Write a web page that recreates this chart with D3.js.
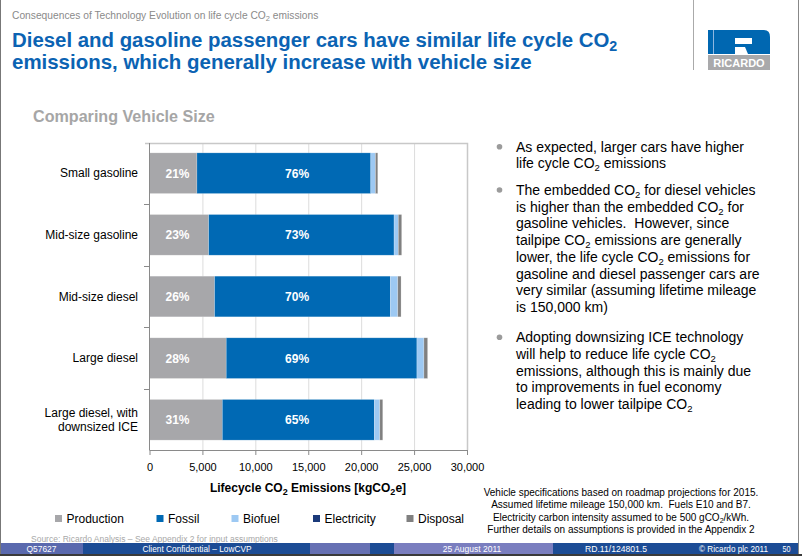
<!DOCTYPE html>
<html><head><meta charset="utf-8">
<script src="https://cdn.jsdelivr.net/npm/d3@7"></script>
<style>body{margin:0;background:#fff}svg{display:block;font-family:Arial,"Liberation Sans",Helvetica,sans-serif}svg text{white-space:pre}</style>
</head><body><svg id="c" width="802" height="556"></svg>
<script>
// ---- data ----
const categories = ["Small gasoline", "Mid-size gasoline", "Mid-size diesel", "Large diesel", "Large diesel, with\ndownsized ICE"];
const production  = [4480, 5590, 6150, 7250, 6880];
const fossil      = [16430, 17520, 16610, 18020, 14370];
const biofuel     = [440, 400, 700, 660, 510];
const electricity = [0, 0, 0, 0, 0];
const disposal    = [220, 320, 310, 350, 280];
const productionPct = ["21%", "23%", "26%", "28%", "31%"];
const fossilPct     = ["76%", "73%", "70%", "69%", "65%"];
const seriesNames = ["Production", "Fossil", "Biofuel", "Electricity", "Disposal"];
const xTicks = [0, 5000, 10000, 15000, 20000, 25000, 30000];
const bullets = [
  ["As expected, larger cars have higher", "life cycle CO₂ emissions"],
  ["The embedded CO₂ for diesel vehicles", "is higher than the embedded CO₂ for", "gasoline vehicles.  However, since",
   "tailpipe CO₂ emissions are generally", "lower, the life cycle CO₂ emissions for", "gasoline and diesel passenger cars are",
   "very similar (assuming lifetime mileage", "is 150,000 km)"],
  ["Adopting downsizing ICE technology", "will help to reduce life cycle CO₂", "emissions, although this is mainly due",
   "to improvements in fuel economy", "leading to lower tailpipe CO₂"]
];
const notes = ["Vehicle specifications based on roadmap projections for 2015.",
  "Assumed lifetime mileage 150,000 km.  Fuels E10 and B7.",
  "Electricity carbon intensity assumed to be 500 gCO₂/kWh.",
  "Further details on assumptions is provided in the Appendix 2"];

// ---- styling ----
const colors = ["#a7a7aa", "#0069b4", "#9dc9f3", "#1b3a7a", "#808080"];
const svg = d3.select("#c");

function rich(sel, str, subSize) {
  const parts = str.split("₂");
  parts.forEach((p, i) => {
    if (i > 0) {
      sel.append("tspan").attr("font-size", subSize).attr("dy", subSize * 0.3).text("2");
      sel.append("tspan").attr("dy", -subSize * 0.3).text(p);
    } else sel.append("tspan").text(p);
  });
  return sel;
}
function fit(sel, x, y, w) {
  const bw = sel.node().getBBox().width;
  const s = bw > 0 ? w / bw : 1;
  sel.attr("transform", `translate(${x},${y}) scale(${s},1)`);
}

// ---- frame ----
svg.append("rect").attr("x", 0).attr("y", 0).attr("width", 802).attr("height", 556).attr("fill", "#fff");
svg.append("line").attr("x1", 0.5).attr("x2", 0.5).attr("y1", 0).attr("y2", 556).attr("stroke", "#777");
svg.append("line").attr("x1", 798.5).attr("x2", 798.5).attr("y1", 0).attr("y2", 556).attr("stroke", "#888");
svg.append("line").attr("x1", 693.5).attr("x2", 693.5).attr("y1", 0).attr("y2", 70).attr("stroke", "#aaa");

// header texts
const sub = svg.append("text").attr("font-size", 11).attr("fill", "#8a8a8a");
rich(sub, "Consequences of Technology Evolution on life cycle CO₂ emissions", 8);
fit(sub, 12, 19, 307);
const t1 = svg.append("text").attr("font-size", 20).attr("font-weight", "bold").attr("fill", "#0b63b3");
rich(t1, "Diesel and gasoline passenger cars have similar life cycle CO₂", 14);
fit(t1, 12, 47, 606);
const t2 = svg.append("text").attr("font-size", 20).attr("font-weight", "bold").attr("fill", "#0b63b3")
  .text("emissions, which generally increase with vehicle size");
fit(t2, 12, 69, 520);

// logo
const lg = svg.append("g");
lg.append("rect").attr("x", 708).attr("y", 30).attr("width", 62).attr("height", 24).attr("fill", "#0067b1");
lg.append("rect").attr("x", 713).attr("y", 30).attr("width", 1).attr("height", 24).attr("fill", "#8fb7e0");
lg.append("path").attr("d", "M735,38 H752 V44 H735 Z").attr("fill", "#fff");
lg.append("path").attr("d", "M735,47 H745 L748,54 H735 Z").attr("fill", "#fff");
lg.append("path").attr("d", "M764,30 Q770,30 770,37 V30 Z").attr("fill", "#fff");
lg.append("rect").attr("x", 708).attr("y", 55).attr("width", 62).attr("height", 15).attr("fill", "#a9a9ab");
lg.append("text").attr("x", 739).attr("y", 66.5).attr("text-anchor", "middle").attr("font-size", 11)
  .attr("font-weight", "bold").attr("fill", "#fff").text("RICARDO");

// section heading
const hd = svg.append("text").attr("font-size", 16.5).attr("font-weight", "bold").attr("fill", "#a6a6a6").text("Comparing Vehicle Size");
fit(hd, 33, 121.5, 182);

// ---- chart ----
const x = d3.scaleLinear().domain([0, 30000]).range([149.5, 467]);
const y = d3.scaleBand().domain(categories).range([143, 450]).paddingInner(0.34).paddingOuter(0.16);
const rows = categories.map((c, i) => ({cat: c, Production: production[i], Fossil: fossil[i], Biofuel: biofuel[i], Electricity: electricity[i], Disposal: disposal[i]}));
const stack = d3.stack().keys(seriesNames)(rows);

// gridlines
svg.append("g").selectAll("line").data(xTicks.slice(1, -1)).join("line")
  .attr("x1", d => x(d) + 0.5).attr("x2", d => x(d) + 0.5).attr("y1", 143).attr("y2", 450)
  .attr("stroke", "#dcdcdc");
// plot border top/right
svg.append("path").attr("d", `M145,143.5 H${x(30000) + 0.5} V450`).attr("fill", "none").attr("stroke", "#c8c8c8").attr("stroke-width", 1.5);

// bars
svg.append("g").selectAll("g").data(stack).join("g").attr("fill", (d, i) => colors[i])
  .selectAll("rect").data(d => d).join("rect")
  .attr("x", d => x(d[0])).attr("y", d => y(d.data.cat))
  .attr("width", d => Math.max(0, x(d[1]) - x(d[0]))).attr("height", y.bandwidth())
  .attr("stroke", "#ffffff").attr("stroke-opacity", 0.35).attr("stroke-width", 0.6);

// percentage labels
const prodLabelAt = 2650, fossilLabelAt = 13950;
svg.append("g").selectAll("text").data(categories).join("text")
  .attr("x", x(prodLabelAt)).attr("y", d => y(d) + y.bandwidth() / 2 + 4.5)
  .attr("text-anchor", "middle").attr("font-size", 12).attr("font-weight", "bold").attr("fill", "#fff")
  .text((d, i) => productionPct[i]);
svg.append("g").selectAll("text").data(categories).join("text")
  .attr("x", x(fossilLabelAt)).attr("y", d => y(d) + y.bandwidth() / 2 + 4.5)
  .attr("text-anchor", "middle").attr("font-size", 12).attr("font-weight", "bold").attr("fill", "#fff")
  .text((d, i) => fossilPct[i]);

// y axis
svg.append("line").attr("x1", 149.5).attr("x2", 149.5).attr("y1", 143).attr("y2", 450).attr("stroke", "#8a8a8a");
const bounds = categories.map(c => y(c) - y.step() * y.paddingInner() / 2).slice(1);
svg.append("g").selectAll("line").data(bounds).join("line")
  .attr("x1", 144).attr("x2", 149.5).attr("y1", d => Math.round(d) + 0.5).attr("y2", d => Math.round(d) + 0.5).attr("stroke", "#8a8a8a");
svg.append("g").selectAll("text").data(categories).join("text")
  .attr("text-anchor", "end").attr("font-size", 12).attr("fill", "#000")
  .each(function (d) {
    const lines = d.split("\n");
    const cy = y(d) + y.bandwidth() / 2;
    d3.select(this).selectAll("tspan").data(lines).join("tspan")
      .attr("x", 138).attr("y", (l, j) => cy + 4 + (j - (lines.length - 1) / 2) * 14.5).text(l => l);
  });

// x axis
const xa = svg.append("g").attr("transform", "translate(0,450)")
  .call(d3.axisBottom(x).tickValues(xTicks).tickSize(5).tickPadding(8).tickFormat(d3.format(",")));
xa.select(".domain").attr("stroke", "#8a8a8a").attr("d", `M${x(0)},0.5H${x(30000)}`);
xa.selectAll(".tick line").attr("stroke", "#8a8a8a");
xa.selectAll(".tick text").attr("font-size", 11).attr("fill", "#000").attr("font-family", "Arial, 'Liberation Sans', sans-serif");

const at = svg.append("text").attr("x", 308).attr("y", 492).attr("text-anchor", "middle")
  .attr("font-size", 12).attr("font-weight", "bold").attr("fill", "#000");
rich(at, "Lifecycle CO₂ Emissions [kgCO₂e]", 9);

// legend
const legendX = [55, 156.5, 231.5, 313, 406.5];
const lgd = svg.append("g").selectAll("g").data(seriesNames).join("g")
  .attr("transform", (d, i) => `translate(${legendX[i]},515)`);
lgd.append("rect").attr("width", 7).attr("height", 7).attr("fill", (d, i) => colors[i]);
lgd.append("text").attr("x", 11.5).attr("y", 7.5).attr("font-size", 12).attr("fill", "#000").text(d => d);

// notes
svg.append("g").selectAll("text").data(notes).join("text")
  .attr("text-anchor", "middle").attr("font-size", 10).attr("fill", "#000")
  .attr("x", 621).attr("y", (d, i) => [495.5, 507.5, 520.5, 533][i])
  .each(function (d) { rich(d3.select(this), d, 7); });

// bullets
let by = [151.7, 195, 342.3];
bullets.forEach((lines, bi) => {
  svg.append("circle").attr("cx", 499.5).attr("cy", by[bi] - 5).attr("r", 2.8).attr("fill", "#9b9b9b");
  lines.forEach((l, li) => {
    const t = svg.append("text").attr("x", 516).attr("y", by[bi] + li * 16.7).attr("font-size", 14).attr("fill", "#000");
    rich(t, l, 9.5);
  });
});

// source
svg.append("text").attr("x", 31).attr("y", 541.5).attr("font-size", 8.5).attr("fill", "#a8a8a8")
  .text("Source: Ricardo Analysis – See Appendix 2 for input assumptions");

// footer
const footSegs = [[1, 83, "#5a69ae"], [83, 310, "#1c4c95"], [310, 370, "#6670b3"], [370, 394, "#1c4c95"], [394, 553, "#7a7ebf"], [553, 798, "#1c4c95"]];
svg.append("g").selectAll("rect").data(footSegs).join("rect")
  .attr("x", d => d[0]).attr("y", 543).attr("width", d => d[1] - d[0]).attr("height", 11).attr("fill", d => d[2]);
svg.append("rect").attr("x", 0).attr("y", 554).attr("width", 802).attr("height", 2).attr("fill", "#3a3a3a");
const foot = [["Q57627", 41.5, 30], ["Client Confidential – LowCVP", 197, 109], ["25 August 2011", 472, 58.5], ["RD.11/124801.5", 616, 62], ["© Ricardo plc 2011", 733.5, 69], ["50", 786.5, 8]];
foot.forEach(f => {
  const t = svg.append("text").attr("text-anchor", "middle").attr("font-size", 9).attr("fill", "#fff").text(f[0]);
  fit(t, f[1], 552, f[2]);
});
</script></body></html>
